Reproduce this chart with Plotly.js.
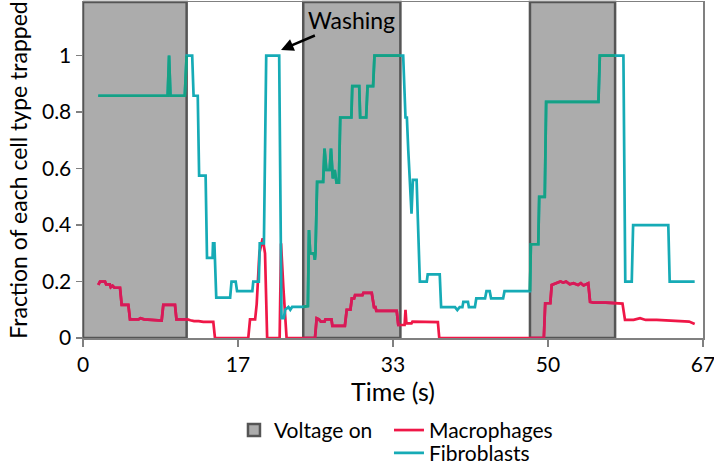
<!DOCTYPE html>
<html><head><meta charset="utf-8">
<script src="https://cdn.plot.ly/plotly-3.0.1.min.js"></script>
<style>html,body{margin:0;padding:0;background:#fff}#chart{width:714px;height:465px}</style>
</head><body><div id="chart"></div>
<script>
// Voltage-on intervals (s)
const voltageStart = [0, 23.8, 48.3];
const voltageEnd   = [11.2, 34.3, 57.5];

// Fibroblasts: time (s) and fraction trapped
const fibroTime = [1.65,9.15,9.3,9.45,11.0,11.2,11.8,11.95,12.4,12.55,13.25,13.4,14.0,14.05,14.2,14.4,15.9,16.05,16.5,16.65,18.3,18.4,19.0,19.1,19.55,19.8,21.2,21.45,21.7,21.85,22.2,22.4,22.6,23.7,24.3,24.42,24.55,24.95,25.05,25.12,25.3,25.95,26.1,26.3,26.65,26.8,27.0,27.2,27.4,27.65,27.8,29.0,29.1,29.85,29.95,30.6,30.75,31.35,31.5,34.6,34.85,35.0,35.15,35.3,35.5,35.65,36.05,36.4,37.15,37.25,38.55,38.7,40.2,40.45,40.7,41.0,41.1,41.6,41.7,42.35,42.5,43.45,43.6,43.95,44.1,45.4,45.55,48.3,48.4,49.2,49.3,49.9,50.05,55.7,55.85,58.4,58.6,59.3,59.45,63.25,63.4,66.1];
const fibroVal  = [0.858,0.858,1.0,0.858,0.858,1.0,1.0,0.858,0.858,0.575,0.575,0.284,0.284,0.335,0.335,0.143,0.143,0.2,0.2,0.166,0.166,0.2,0.2,0.335,0.335,1.0,1.0,0.07,0.07,0.1,0.11,0.1,0.11,0.11,0.113,0.382,0.3,0.3,0.277,0.3,0.553,0.553,0.671,0.595,0.595,0.671,0.565,0.595,0.55,0.55,0.781,0.781,0.892,0.892,0.781,0.781,0.892,0.892,1.0,1.0,0.781,0.781,0.665,0.56,0.44,0.56,0.56,0.2,0.2,0.225,0.225,0.109,0.109,0.099,0.109,0.109,0.128,0.128,0.109,0.109,0.14,0.14,0.166,0.166,0.14,0.14,0.166,0.166,0.332,0.332,0.5,0.5,0.836,0.836,1.0,1.0,0.2,0.2,0.4,0.4,0.2,0.2];

// Macrophages: time (s) and fraction trapped
const macroTime = [1.65,1.84,2.38,2.5,2.9,3.0,3.2,3.4,4.0,4.18,4.9,5.08,6.0,6.2,6.6,7.6,8.5,8.68,9.94,10.1,11.3,11.6,12.0,12.5,13.0,14.08,14.26,17.86,18.05,18.6,18.77,19.06,19.42,19.67,19.9,21.25,21.4,21.65,22.0,25.07,25.25,25.5,25.7,26.1,26.2,26.85,26.95,28.3,28.5,28.9,29.05,29.3,29.4,30.2,30.3,31.2,31.45,31.6,31.7,33.9,34.07,34.75,34.85,34.95,35.5,35.6,37.5,38.1,38.35,38.5,49.8,49.95,50.5,50.65,51.2,51.6,51.9,52.2,52.6,53.0,53.5,53.8,54.1,54.6,54.8,55.2,56.5,58.3,58.57,59.5,60.2,60.8,62.0,63.5,64.5,65.5,66.1];
const macroVal  = [0.188,0.2,0.2,0.19,0.19,0.18,0.185,0.178,0.178,0.117,0.117,0.066,0.066,0.07,0.066,0.064,0.062,0.117,0.117,0.066,0.066,0.063,0.06,0.06,0.057,0.057,0,0,0.066,0.066,0.12,0.3,0.353,0.3,0,0,0.335,0.18,0,0,0.07,0.066,0.058,0.058,0.066,0.066,0.043,0.043,0.1,0.1,0.14,0.14,0.152,0.152,0.16,0.16,0.109,0.109,0.096,0.096,0.046,0.046,0.1,0.052,0.052,0.058,0.058,0.056,0.056,0,0,0.123,0.123,0.188,0.194,0.2,0.196,0.2,0.19,0.194,0.188,0.194,0.186,0.194,0.128,0.125,0.125,0.122,0.064,0.064,0.07,0.064,0.064,0.062,0.06,0.058,0.05];

const xTickVals = [0, 16.75, 33.5, 50.25, 67];
const xTickText = ['0', '17', '33', '50', '67'];
const yTickVals = [0, 0.2, 0.4, 0.6, 0.8, 1];
const yTickText = ['0', '0.2', '0.4', '0.6', '0.8', '1'];

const X_MAX = 67, Y_MAX = 1.19;
const FONT = 'Lato, "Open Sans", sans-serif';
const RED = '#ef1747', RED_IN = '#d61a59';
const TEAL = '#16abb6', TEAL_IN = '#15a184';

// segment of a polyline lying within [a,b]
function clip(ts, vs, a, b) {
  const X = [], Y = [];
  for (let i = 0; i < ts.length - 1; i++) {
    const t0 = ts[i], t1 = ts[i+1], v0 = vs[i], v1 = vs[i+1];
    if (t1 < a || t0 > b) continue;
    const s0 = Math.max(t0, a), s1 = Math.min(t1, b);
    const f = t => t1 === t0 ? v0 : v0 + (v1 - v0) * (t - t0) / (t1 - t0);
    if (X.length === 0) { X.push(s0); Y.push(f(s0)); }
    X.push(s1); Y.push(f(s1));
  }
  return {x: X, y: Y};
}

const shapes = voltageStart.map((s, i) => ({
  type: 'rect', xref: 'x', yref: 'paper', x0: s, x1: voltageEnd[i], y0: 0, y1: 1,
  fillcolor: '#acacac', line: {color: '#555555', width: 2.5}, layer: 'below',
  name: 'Voltage on', showlegend: i === 0, legend: 'legend'
}));

const traces = [
  {x: macroTime, y: macroVal, type: 'scatter', mode: 'lines', name: 'Macrophages',
   line: {color: RED, width: 2.7}, legend: 'legend2', cliponaxis: false},
  {x: fibroTime, y: fibroVal, type: 'scatter', mode: 'lines', name: 'Fibroblasts',
   line: {color: TEAL, width: 2.7}, legend: 'legend3', cliponaxis: false}
];
voltageStart.forEach((s, i) => {
  const m = clip(macroTime, macroVal, s, voltageEnd[i]);
  const f = clip(fibroTime, fibroVal, s, voltageEnd[i]);
  traces.push({x: m.x, y: m.y, type: 'scatter', mode: 'lines', showlegend: false,
    line: {color: RED_IN, width: 2.7}, cliponaxis: false, hoverinfo: 'skip'});
  traces.push({x: f.x, y: f.y, type: 'scatter', mode: 'lines', showlegend: false,
    line: {color: TEAL_IN, width: 2.7}, cliponaxis: false, hoverinfo: 'skip'});
});

const legendBase = {xanchor: 'left', yanchor: 'top', font: {size: 21},
  bgcolor: 'rgba(0,0,0,0)', orientation: 'v'};

const layout = {
  width: 714, height: 465,
  margin: {l: 83, r: 11, t: 2, b: 127, autoexpand: false},
  paper_bgcolor: '#fff', plot_bgcolor: '#fff',
  font: {family: FONT, color: '#000', size: 21},
  shapes: shapes,
  xaxis: {range: [0, X_MAX], tickvals: xTickVals, ticktext: xTickText, automargin: false,
    showgrid: false, zeroline: false, showline: true, linecolor: '#808080', linewidth: 1.5,
    mirror: true, ticks: 'outside', ticklen: 7, tickcolor: '#808080', tickwidth: 1.5,
    ticklabeloverflow: 'allow',
    tickfont: {size: 21}, title: {text: 'Time (s)', font: {size: 25}, standoff: 0}},
  yaxis: {range: [0, Y_MAX], tickvals: yTickVals, ticktext: yTickText, automargin: false,
    showgrid: false, zeroline: false, showline: true, linecolor: '#808080', linewidth: 1.5,
    mirror: true, ticks: 'outside', ticklen: 6, tickcolor: '#808080', tickwidth: 1.5,
    ticklabeloverflow: 'allow',
    tickfont: {size: 21}, title: {text: 'Fraction of each cell type trapped', font: {size: 23}, standoff: 8}},
  legend: Object.assign({x: 0.2435, y: -0.214}, legendBase),
  legend2: Object.assign({x: 0.4935, y: -0.214}, legendBase),
  legend3: Object.assign({x: 0.4935, y: -0.282}, legendBase),
  annotations: [{x: 21.4, y: 1.02, xref: 'x', yref: 'y', text: 'Washing',
    showarrow: true, arrowhead: 2, arrowsize: 1, arrowwidth: 2.5, arrowcolor: '#000',
    ax: 70, ay: -30, font: {size: 23, color: '#000'}, standoff: 0}],
  showlegend: true
};

Plotly.newPlot('chart', traces, layout, {displayModeBar: false, staticPlot: true});
</script></body></html>
